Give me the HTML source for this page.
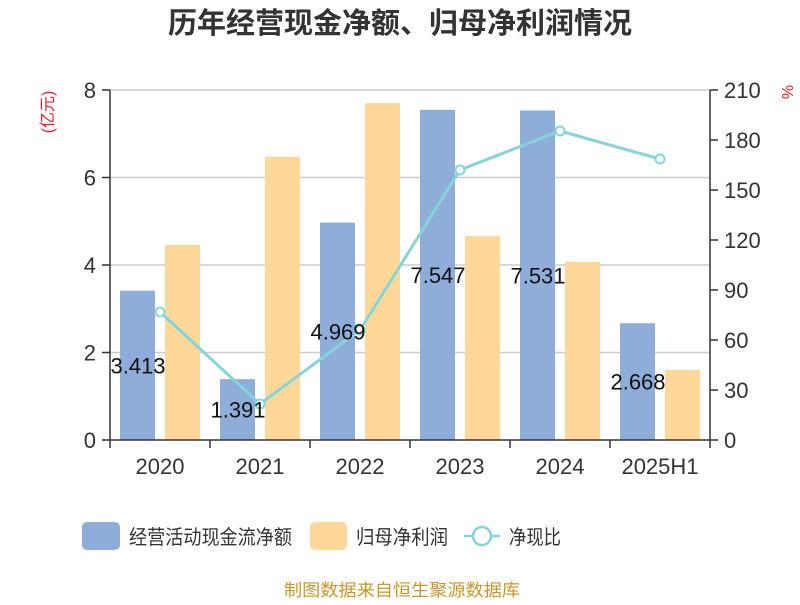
<!DOCTYPE html>
<html><head><meta charset="utf-8"><style>
body{margin:0;background:#fff;}
svg text{font-family:"Liberation Sans","Noto Sans CJK SC",sans-serif;}
</style></head><body>
<svg id="chart" width="800" height="600" xmlns="http://www.w3.org/2000/svg">
<text x="400" y="33" text-anchor="middle" font-size="29" font-weight="bold" fill="#333">历年经营现金净额、归母净利润情况</text>
<text transform="translate(53,112) rotate(-90)" text-anchor="middle" font-size="16" fill="#e8202a">(亿元)</text>
<text transform="translate(782,92) rotate(90)" text-anchor="middle" font-size="16" fill="#e8202a">%</text>
<g id="grid"></g><g id="bars"></g><g id="axes"></g><g id="line"></g><g id="labels"></g>
<g>
<rect x="82" y="522" width="38" height="28" rx="5" fill="#8eadd9"/>
<text x="129" y="544" font-size="20" textLength="163" lengthAdjust="spacingAndGlyphs" fill="#333">经营活动现金流净额</text>
<rect x="310" y="522" width="37" height="28" rx="5" fill="#fed799"/>
<text x="356" y="544" font-size="20" textLength="92" lengthAdjust="spacingAndGlyphs" fill="#333">归母净利润</text>
<line x1="464" y1="536" x2="500" y2="536" stroke="#86d4db" stroke-width="2.5"/>
<circle cx="482" cy="536" r="9" fill="#fff" stroke="#86d4db" stroke-width="2.5"/>
<text x="509" y="544" font-size="20" textLength="52" lengthAdjust="spacingAndGlyphs" fill="#333">净现比</text>
</g>
<text x="284" y="596" font-size="17" textLength="236" lengthAdjust="spacingAndGlyphs" fill="#c9962a">制图数据来自恒生聚源数据库</text>
</svg>
<script>
const categories=["2020","2021","2022","2023","2024","2025H1"];
const cashflow=[3.413,1.391,4.969,7.547,7.531,2.668];
const profit=[4.46,6.47,7.70,4.66,4.07,1.60];
const ratio=[76.8,21.6,66,162,185.4,168.6];
const leftTicks=[0,2,4,6,8];
const rightTicks=[0,30,60,90,120,150,180,210];
const NS="http://www.w3.org/2000/svg";
const X0=110,X1=710,Y0=440,Y1=90;
const bw=(X1-X0)/categories.length;
const yL=v=>Y0-(v/8)*(Y0-Y1);
const yR=v=>Y0-(v/210)*(Y0-Y1);
const xC=i=>X0+bw*(i+0.5);
function mk(tag,attrs,parent,txt){const e=document.createElementNS(NS,tag);for(const k in attrs)e.setAttribute(k,attrs[k]);if(txt!==undefined)e.textContent=txt;document.getElementById(parent).appendChild(e);return e;}
leftTicks.forEach(t=>{
 if(t>0){const g=mk('line',{x1:X0,x2:X1,y1:yL(t),y2:yL(t),stroke:'#ccc','stroke-width':1.5},'grid');
 
 }
 const tk=mk('line',{x1:X0-8,x2:X0,y1:yL(t),y2:yL(t),stroke:'#333','stroke-width':1.5},'axes');
 
 
 const tl=mk('text',{x:X0-14,y:yL(t)+8,'text-anchor':'end','font-size':22,fill:'#333'},'axes',t);
 
 
});
rightTicks.forEach(t=>{
 const tk=mk('line',{x1:X1,x2:X1+8,y1:yR(t),y2:yR(t),stroke:'#333','stroke-width':1.5},'axes');
 
 
 const tl=mk('text',{x:X1+14,y:yR(t)+8,'font-size':22,fill:'#333'},'axes',t);
 
 
});
categories.forEach((c,i)=>{
 const b=mk('rect',{x:xC(i)-40,y:yL(cashflow[i]),width:35,height:Y0-yL(cashflow[i]),fill:'#8eadd9'},'bars');
 
 
 const p=mk('rect',{x:xC(i)+5,y:yL(profit[i]),width:35,height:Y0-yL(profit[i]),fill:'#fed799'},'bars');
 
 
 const l=mk('text',{x:xC(i)-22,y:(yL(cashflow[i])+Y0)/2+8,'text-anchor':'middle','font-size':22,fill:'#111'},'labels',cashflow[i].toFixed(3));
 
 
 const xl=mk('text',{x:xC(i),y:474,'text-anchor':'middle','font-size':22,fill:'#333'},'axes',c);
 
 
});
for(let i=0;i<=categories.length;i++){
 const t=mk('line',{x1:X0+bw*i,x2:X0+bw*i,y1:Y0,y2:Y0+8,stroke:'#333','stroke-width':1.5},'axes');
 
 
}
[['line',{x1:X0,x2:X0,y1:Y1,y2:Y0}],['line',{x1:X1,x2:X1,y1:Y1,y2:Y0}],['line',{x1:X0,x2:X1,y1:Y0,y2:Y0}]].forEach((a,k)=>{
 const e=mk('line',Object.assign({stroke:'#333','stroke-width':1.5},a[1]),'axes');
 
 
});
const pl=mk('polyline',{points:ratio.map((v,i)=>xC(i)+','+yR(v)).join(' '),fill:'none',stroke:'#86d4db','stroke-width':3},'line');


ratio.forEach((v,i)=>{
 const c=mk('circle',{cx:xC(i),cy:yR(v),r:4.5,fill:'#fff',stroke:'#86d4db','stroke-width':2},'line');
 
 
});
</script>
</body></html>
